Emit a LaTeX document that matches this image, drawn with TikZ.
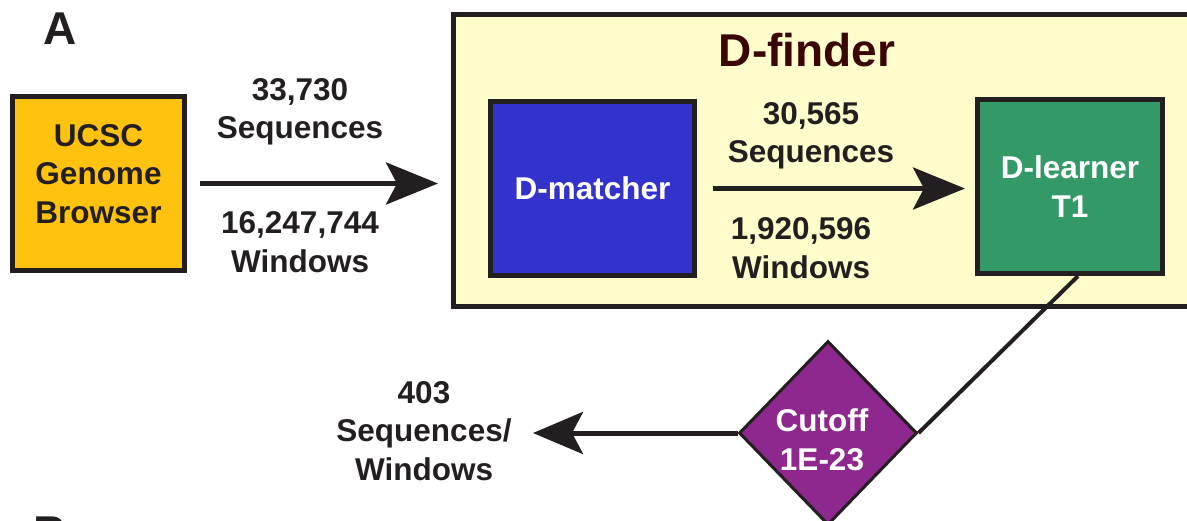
\documentclass[tikz,border=0pt]{standalone}
\usepackage{fontspec}
\setmainfont{Liberation Sans}
\usetikzlibrary{arrows.meta,shapes.geometric,calc}
\definecolor{ink}{HTML}{231F20}
\definecolor{ucscY}{HTML}{FFC20E}
\definecolor{dfY}{HTML}{FFFDCC}
\definecolor{dmB}{HTML}{3333CC}
\definecolor{dlG}{HTML}{339966}
\definecolor{cutP}{HTML}{8E278E}
\definecolor{dfT}{HTML}{3B0505}
\begin{document}
\begin{tikzpicture}[x=1pt,y=-1pt,
  lbl/.style={font=\fontsize{31.5}{38.5}\selectfont\bfseries, text=ink, align=center, inner sep=0pt},
  wlbl/.style={lbl, text=white},
  big/.style={font=\fontsize{46}{50}\selectfont\bfseries, inner sep=0pt},
  blockbox/.style={draw=ink, line width=5pt, inner sep=0pt},
  arr/.style={draw=ink, line width=5pt, -{Stealth[length=52pt, width=42pt, inset=11pt]}}
]
\useasboundingbox (0,0) rectangle (1187,520);

% panel letters
\node[big, text=ink] (lA) at (60,29) {A};
\node[big, text=ink, anchor=base west] (lB) at (33,548) {B};

% D-finder frame
\node[blockbox, fill=dfY, minimum width=746.5pt, minimum height=292pt] (df) at (826.75,160.5) {};
\node[big, text=dfT] (dft) at (807,50) {D-finder};

% boxes
\node[blockbox, fill=ucscY, minimum width=172pt, minimum height=174pt] (ucsc) at (98.5,183.5) {};
\node[lbl] (ucsct) at (98.5,174) {UCSC\\Genome\\Browser};
\node[blockbox, fill=dmB, minimum width=204pt, minimum height=174pt, wlbl] (dm) at (592.5,188.5) {D-matcher};
\node[blockbox, fill=dlG, minimum width=185pt, minimum height=174pt, wlbl] (dl) at (1070,186.5) {D-learner\\T1};

% cutoff diamond
\node[diamond, draw=ink, line width=3pt, fill=cutP, minimum width=178pt, minimum height=184pt, inner sep=0pt] (cut) at (828,433) {};
\node[wlbl] (cutt) at (822,440) {Cutoff\\1E-23};

% connectors
\draw[arr, shorten <=13pt, shorten >=13pt] (ucsc.east) -- (ucsc.east -| df.west);
\draw[arr, shorten <=16pt, shorten >=10pt] (dm.east) -- (dm.east -| dl.west);
\draw[ink, line width=4pt] ($(dl.south)+(8,0)$) -- (cut.east);
\coordinate (outp) at (533,433);
\draw[arr, -{Stealth[length=50pt, width=42pt, inset=11pt]}] (cut.west) -- (outp);

% labels
\node[lbl] (t1) at (300,112) {33,730\\Sequences};
\node[lbl] (t2) at (300,242) {16,247,744\\Windows};
\node[lbl] (t3) at (811,136) {30,565\\Sequences};
\node[lbl] (t4) at (801,248) {1,920,596\\Windows};
\node[lbl] (t5) at (424,431) {403\\Sequences/\\Windows};
\end{tikzpicture}
\end{document}
